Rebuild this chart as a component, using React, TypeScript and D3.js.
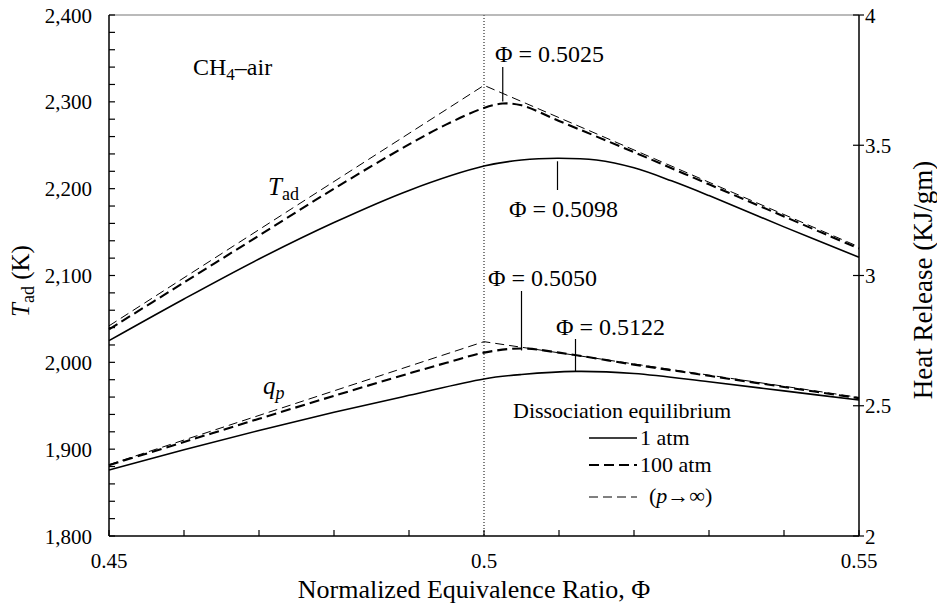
import React from "react";
import * as d3 from "d3";

// Adiabatic flame temperature (K) vs normalized equivalence ratio
const tPhi1 = [0.45, 0.46, 0.47, 0.48, 0.49, 0.5, 0.505, 0.5098, 0.515, 0.52, 0.525, 0.53, 0.54, 0.55];
const tVal1 = [2025, 2073, 2119, 2161, 2198, 2226, 2233, 2235, 2233, 2224, 2209, 2192, 2156, 2121];

const tPhi100 = [0.45, 0.46, 0.47, 0.48, 0.49, 0.495, 0.5, 0.5025, 0.505, 0.51, 0.52, 0.53, 0.54, 0.55];
const tVal100 = [2038, 2092, 2146, 2200, 2251, 2274, 2293, 2298, 2296, 2278, 2242, 2205, 2168, 2131];

const tPhiInf = [0.45, 0.5, 0.55];
const tValInf = [2042, 2319, 2133];

// Heat release (KJ/gm)
const qPhi1 = [0.45, 0.46, 0.47, 0.48, 0.49, 0.5, 0.505, 0.5122, 0.52, 0.53, 0.54, 0.55];
const qVal1 = [2.253, 2.331, 2.405, 2.475, 2.54, 2.603, 2.62, 2.632, 2.624, 2.592, 2.557, 2.522];

const qPhi100 = [0.45, 0.46, 0.47, 0.48, 0.49, 0.495, 0.5, 0.505, 0.51, 0.52, 0.53, 0.54, 0.55];
const qVal100 = [2.272, 2.361, 2.45, 2.538, 2.624, 2.665, 2.704, 2.72, 2.704, 2.658, 2.615, 2.572, 2.529];

const qPhiInf = [0.45, 0.5, 0.55];
const qValInf = [2.274, 2.746, 2.532];

// Axis ticks
const xTicks = [0.45, 0.5, 0.55];
const xTickLabels = ["0.45", "0.5", "0.55"];
const tTicks = [1800, 1900, 2000, 2100, 2200, 2300, 2400];
const qTicks = [2, 2.5, 3, 3.5, 4];
const qTickLabels = ["2", "2.5", "3", "3.5", "4"];

// Peak annotations
const tPeakPhi100 = 0.5025;
const tPeakPhi1 = 0.5098;
const qPeakPhi100 = 0.505;
const qPeakPhi1 = 0.5122;

const W = 937;
const H = 611;
const M = { left: 109, right: 859, top: 15, bottom: 536 };
const FONT = "Liberation Serif, Times New Roman, DejaVu Serif, serif";

const x = d3.scaleLinear().domain([0.45, 0.55]).range([M.left, M.right]);
const yT = d3.scaleLinear().domain([1800, 2400]).range([M.bottom, M.top]);
const yQ = d3.scaleLinear().domain([2, 4]).range([M.bottom, M.top]);

const zip = (a: number[], b: number[]) => a.map((p, i) => [p, b[i]] as [number, number]);

const lineT = (curve: d3.CurveFactory) =>
  d3.line<[number, number]>().x((d) => x(d[0])).y((d) => yT(d[1])).curve(curve);
const lineQ = (curve: d3.CurveFactory) =>
  d3.line<[number, number]>().x((d) => x(d[0])).y((d) => yQ(d[1])).curve(curve);

const smooth = d3.curveCatmullRom.alpha(0.5);

const interp = (phis: number[], vals: number[], p: number) => {
  const i = d3.bisectLeft(phis, p);
  if (phis[i] === p) return vals[i];
  const t = (p - phis[i - 1]) / (phis[i] - phis[i - 1]);
  return vals[i - 1] + t * (vals[i] - vals[i - 1]);
};

export default function App() {
  const minorX = d3.range(0.45, 0.5501, 0.01);
  const minorT = d3.range(1800, 2400.1, 20);

  const styles = {
    one: { stroke: "#000", strokeWidth: 1.6, fill: "none" },
    hundred: { stroke: "#000", strokeWidth: 2.1, fill: "none", strokeDasharray: "10 5" },
    inf: { stroke: "#000", strokeWidth: 1, fill: "none", strokeDasharray: "9 5" },
  };

  const tickFs = 21;
  const noteFs = 24;
  const legFs = 22;

  return (
    <svg
      width={W}
      height={H}
      style={{ position: "absolute", left: 0, top: 0, background: "#fff", fontFamily: FONT }}
    >
      <rect x={0} y={0} width={W} height={H} fill="#fff" />

      {/* Φ = 0.5 reference line */}
      <line
        x1={x(0.5)}
        x2={x(0.5)}
        y1={M.top}
        y2={M.bottom}
        stroke="#000"
        strokeWidth={1}
        strokeDasharray="1 2"
      />

      {/* Temperature curves */}
      <path d={lineT(smooth)(zip(tPhi1, tVal1)) || ""} {...styles.one} />
      <path d={lineT(smooth)(zip(tPhi100, tVal100)) || ""} {...styles.hundred} />
      <path d={lineT(d3.curveLinear)(zip(tPhiInf, tValInf)) || ""} {...styles.inf} />

      {/* Heat release curves */}
      <path d={lineQ(smooth)(zip(qPhi1, qVal1)) || ""} {...styles.one} />
      <path d={lineQ(smooth)(zip(qPhi100, qVal100)) || ""} {...styles.hundred} />
      <path d={lineQ(d3.curveLinear)(zip(qPhiInf, qValInf)) || ""} {...styles.inf} />

      {/* Frame */}
      <line x1={M.left} x2={M.right} y1={M.top} y2={M.top} stroke="#777" strokeWidth={1.2} />
      <line x1={M.left} x2={M.right} y1={M.bottom} y2={M.bottom} stroke="#000" strokeWidth={1.5} />
      <line x1={M.left} x2={M.left} y1={M.top} y2={M.bottom} stroke="#000" strokeWidth={1.5} />
      <line x1={M.right} x2={M.right} y1={M.top} y2={M.bottom} stroke="#000" strokeWidth={1.5} />

      {/* Bottom ticks */}
      {minorX.map((v, i) => (
        <line key={"bx" + i} x1={x(v)} x2={x(v)} y1={M.bottom} y2={M.bottom - 6} stroke="#000" strokeWidth={1.2} />
      ))}
      {xTicks.map((v, i) => (
        <text key={"xl" + i} x={x(v)} y={568} textAnchor="middle" fontSize={tickFs} fill="#000">
          {xTickLabels[i]}
        </text>
      ))}

      {/* Left ticks */}
      {minorT.map((v, i) => (
        <line key={"lt" + i} x1={M.left} x2={M.left + 6} y1={yT(v)} y2={yT(v)} stroke="#000" strokeWidth={1.2} />
      ))}
      {tTicks.map((v) => (
        <text key={"tl" + v} x={92} y={yT(v) + 7.5} textAnchor="end" fontSize={tickFs} fill="#000">
          {d3.format(",")(v)}
        </text>
      ))}

      {/* Right ticks */}
      {qTicks.map((v, i) => (
        <g key={"rq" + v}>
          <line x1={M.right - 6} x2={M.right + 5} y1={yQ(v)} y2={yQ(v)} stroke="#000" strokeWidth={1.2} />
          <text x={865} y={yQ(v) + 7.5} textAnchor="start" fontSize={tickFs} fill="#000">
            {qTickLabels[i]}
          </text>
        </g>
      ))}

      {/* Axis titles */}
      <text x={474} y={598} textAnchor="middle" fontSize={26} fill="#000">
        Normalized Equivalence Ratio, Φ
      </text>
      <text transform="translate(29,281) rotate(-90)" textAnchor="middle" fontSize={25} fill="#000">
        <tspan fontStyle="italic">T</tspan>
        <tspan fontSize={18} dy={5}>ad</tspan>
        <tspan dy={-5}> (K)</tspan>
      </text>
      <text transform="translate(932,280) rotate(-90)" textAnchor="middle" fontSize={27} fill="#000">
        Heat Release (KJ/gm)
      </text>

      {/* Curve labels */}
      <text x={193} y={75} fontSize={24} fill="#000">
        CH<tspan fontSize={17} dy={5}>4</tspan>
        <tspan dy={-5}>–air</tspan>
      </text>
      <text x={268} y={195} fontSize={25} fill="#000">
        <tspan fontStyle="italic">T</tspan>
        <tspan fontSize={18} dy={5}>ad</tspan>
      </text>
      <text x={263} y={394} fontSize={25} fill="#000">
        <tspan fontStyle="italic">q</tspan>
        <tspan fontSize={18} dy={5} fontStyle="italic">p</tspan>
      </text>

      {/* Peak annotations */}
      <line x1={x(tPeakPhi100)} x2={x(tPeakPhi100)} y1={67} y2={yT(interp(tPhi100, tVal100, tPeakPhi100)) - 2} stroke="#000" strokeWidth={1.2} />
      <text x={495} y={62} fontSize={noteFs} fill="#000">Φ = {tPeakPhi100.toFixed(4)}</text>

      <line x1={x(tPeakPhi1)} x2={x(tPeakPhi1)} y1={yT(interp(tPhi1, tVal1, tPeakPhi1)) + 3} y2={190} stroke="#000" strokeWidth={1.2} />
      <text x={509} y={217} fontSize={noteFs} fill="#000">Φ = {tPeakPhi1.toFixed(4)}</text>

      <line x1={x(qPeakPhi100)} x2={x(qPeakPhi100)} y1={291} y2={yQ(interp(qPhi100, qVal100, qPeakPhi100)) + 2} stroke="#000" strokeWidth={1.2} />
      <text x={488} y={286} fontSize={noteFs} fill="#000">Φ = {qPeakPhi100.toFixed(4)}</text>

      <line x1={x(qPeakPhi1)} x2={x(qPeakPhi1)} y1={339} y2={yQ(interp(qPhi1, qVal1, qPeakPhi1))} stroke="#000" strokeWidth={1.2} />
      <text x={556} y={335} fontSize={noteFs} fill="#000">Φ = {qPeakPhi1.toFixed(4)}</text>

      {/* Legend */}
      <text x={513} y={418} fontSize={legFs} fill="#000">Dissociation equilibrium</text>
      <line x1={589} x2={637} y1={438} y2={438} {...styles.one} />
      <text x={640} y={445} fontSize={legFs} fill="#000">1 atm</text>
      <line x1={589} x2={637} y1={465} y2={465} {...styles.hundred} />
      <text x={640} y={472} fontSize={legFs} fill="#000">100 atm</text>
      <line x1={589} x2={637} y1={497} y2={497} {...styles.inf} />
      <text x={649} y={503} fontSize={legFs} fill="#000">
        (<tspan fontStyle="italic">p</tspan>→∞)
      </text>
    </svg>
  );
}
